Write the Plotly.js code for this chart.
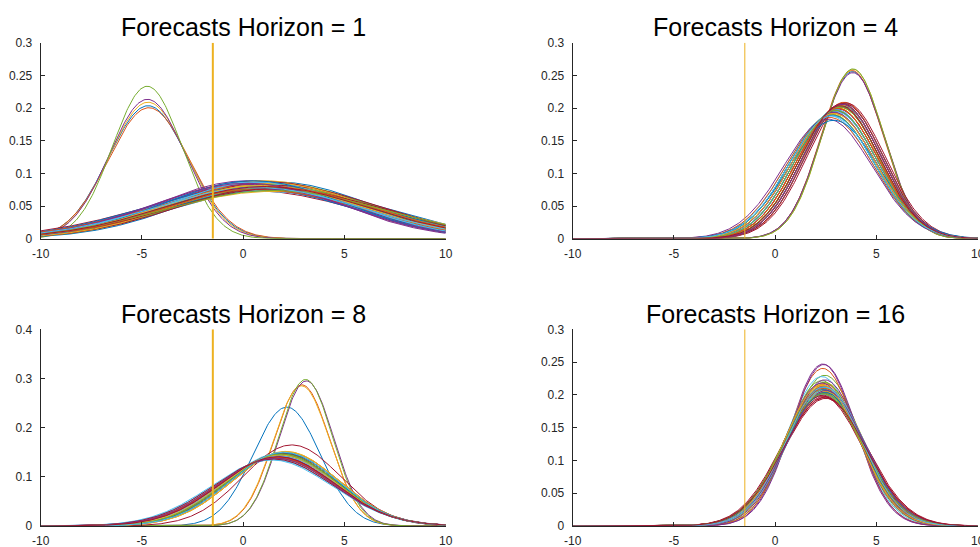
<!DOCTYPE html>
<html><head><meta charset="utf-8">
<script src="https://cdn.plot.ly/plotly-3.0.1.min.js"></script>
<style>html,body{margin:0;padding:0;background:#fff}#chart{width:980px;height:547px}</style>
</head><body><div id="chart"></div>
<script>
// Panel titles
const titles = ["Forecasts Horizon = 1", "Forecasts Horizon = 4", "Forecasts Horizon = 8", "Forecasts Horizon = 16"];
// Vertical reference value
const refValue = -1.5;
// Tick labels
const xTickVals = [-10, -5, 0, 5, 10];
const xTickText = ["-10", "-5", "0", "5", "10"];
const yTickVals03 = [0, 0.05, 0.1, 0.15, 0.2, 0.25, 0.3];
const yTickText03 = ["0", "0.05", "0.1", "0.15", "0.2", "0.25", "0.3"];
const yTickVals04 = [0, 0.1, 0.2, 0.3, 0.4];
const yTickText04 = ["0", "0.1", "0.2", "0.3", "0.4"];

// Forecast density parameters (mean, std)
const h1Mean = [-4.70,-4.66,-4.70,-4.73,-4.74,
  1.0,0.3,1.7,0.6,1.3,0.2,1.5,0.9,0.5,1.8,0.7,1.2,0.4,1.6,1.0,0.3,1.4,0.8,1.1,0.5,1.7,0.6,
  1.3,0.2,0.9,1.5,0.7,1.2,0.4,1.8,1.0,0.6,1.4,0.3,1.1,0.8,1.6,0.5,1.3,0.9,0.2,1.5,0.7,1.1];
const h1Sd = [1.96,1.99,1.91,1.87,1.71,
  4.9,5.4,4.6,4.7,5.3,4.5,5.0,5.5,4.8,5.2,4.5,4.9,5.1,4.7,5.4,4.6,5.2,4.8,4.5,5.3,5.0,4.9,
  4.6,5.1,4.7,5.5,5.2,4.8,4.6,4.9,5.0,5.3,4.7,4.8,5.1,4.6,5.2,4.5,5.0,4.9,4.7,5.4,5.1,5.0];

const h4Mean = [3.82,3.80,3.85,3.83,3.84,
  3.0,3.2,2.8,3.4,3.1,2.9,3.3,2.7,3.2,3.0,3.4,2.8,3.1,3.3,2.9,3.5,3.0,2.7,3.2,3.1,2.8,3.4,
  3.0,3.3,2.9,3.1,2.6,3.2,3.0,3.4,2.8,3.1,3.3,2.9,3.2,3.0,3.3,2.9,3.1,2.9,3.3,3.0,2.8,3.2];
const h4Sd = [1.56,1.55,1.54,1.57,1.535,
  2.05,1.95,2.10,1.92,2.00,2.08,1.94,2.12,1.98,2.03,1.91,2.09,2.00,1.95,2.06,1.92,2.02,2.15,1.97,2.01,2.10,1.93,
  2.04,1.96,2.07,1.99,2.18,1.97,2.05,1.93,2.11,2.00,1.95,2.06,1.98,2.02,1.93,2.20,2.00,2.08,1.94,2.03,2.12,1.96];

const h8Mean = [2.15,2.90,2.88,3.12,3.08,1.8,2.40,
  1.8,1.6,2.0,1.7,1.9,1.5,2.1,1.8,1.6,1.9,1.7,2.0,1.5,1.8,1.9,1.6,2.1,1.7,1.8,1.4,2.0,
  1.9,1.6,1.8,1.7,2.0,1.5,1.9,1.8,1.6,2.1,1.7,1.9,1.8,1.5,2.0,1.7,1.8,1.6,1.9,2.0,1.7];
const h8Sd = [1.65,1.39,1.40,1.352,1.339,2.70,2.42,
  2.75,2.85,2.68,2.90,2.72,2.95,2.65,2.80,2.88,2.70,2.82,2.66,2.92,2.78,2.70,2.86,2.63,2.84,2.76,2.97,2.69,
  2.73,2.90,2.79,2.83,2.67,2.94,2.71,2.77,2.87,2.64,2.81,2.74,2.80,2.93,2.68,2.85,2.76,2.89,2.72,2.66,2.83];

const h16Mean = [2.4,2.3,2.5,2.35,2.45,2.3,2.4,2.5,2.35,2.4,2.45,2.3,2.5,2.4,2.35,2.45,2.3,2.4,2.5,2.35,
  2.45,2.4,2.3,2.5,2.35,2.4,2.45,2.3,2.4,2.5,2.35,2.45,2.3,2.4,2.5,2.35,2.4,2.45,2.3,2.4,2.5,2.35,2.45,2.4,2.3,2.5,2.35,2.4,2.45];
const h16Sd = [1.92,1.88,1.83,1.615,1.735,1.75,1.97,1.90,1.66,1.86,1.95,1.80,1.93,2.02,1.89,1.84,1.91,1.62,1.96,1.87,
  2.04,1.94,1.85,1.90,1.98,1.82,1.93,2.01,1.88,1.95,1.86,1.79,1.92,1.99,2.05,1.91,1.87,1.94,1.83,1.97,1.89,2.00,1.96,1.90,1.85,1.93,1.98,1.88,2.03];

const colorOrder = ['#0072BD','#D95319','#EDB120','#7E2F8E','#77AC30','#4DBEEE','#A2142F'];

// evaluation grid for the densities
const xs = [];
for (let k = 0; k <= 400; k++) xs.push(-10 + k * 0.05);
function pdf(x, m, s) { return Math.exp(-0.5 * ((x - m) / s) ** 2) / (s * Math.sqrt(2 * Math.PI)); }

const panels = [
  {mean: h1Mean, sd: h1Sd, xa: 'x', ya: 'y', ymax: 0.3, vw: 2},
  {mean: h4Mean, sd: h4Sd, xa: 'x2', ya: 'y2', ymax: 0.3, vw: 1},
  {mean: h8Mean, sd: h8Sd, xa: 'x3', ya: 'y3', ymax: 0.4, vw: 2},
  {mean: h16Mean, sd: h16Sd, xa: 'x4', ya: 'y4', ymax: 0.3, vw: 1}
];

const traces = [];
panels.forEach(p => {
  p.mean.forEach((m, i) => {
    traces.push({
      x: xs, y: xs.map(x => pdf(x, m, p.sd[i])), xaxis: p.xa, yaxis: p.ya,
      type: 'scatter', mode: 'lines', line: {color: colorOrder[i % 7], width: 1},
      hoverinfo: 'skip', showlegend: false
    });
  });
  traces.push({
    x: [refValue, refValue], y: [0, p.ymax], xaxis: p.xa, yaxis: p.ya,
    type: 'scatter', mode: 'lines', line: {color: '#EDB120', width: p.vw},
    hoverinfo: 'skip', showlegend: false
  });
});

const W = 980, H = 547;
const colX = [[40.7 / W, 445.7 / W], [572.7 / W, 977.7 / W]];
const rowY = [[(H - 238.7) / H, (H - 42.7) / H], [(H - 526) / H, (H - 329.3) / H]];
const tickFont = {family: 'Liberation Sans, Arial, sans-serif', size: 12, color: '#262626'};

function xaxis(dom, anchor) {
  return {domain: dom, range: [-10, 10], tickmode: 'array', tickvals: xTickVals, ticktext: xTickText, anchor: anchor,
    ticks: 'inside', ticklen: 4, tickcolor: '#262626', showline: true, linecolor: '#262626', linewidth: 1,
    showgrid: false, zeroline: false, tickfont: tickFont, ticklabelstandoff: 4, ticklabeloverflow: 'allow',
    fixedrange: true};
}
function yaxis(dom, ymax, anchor) {
  const v = ymax > 0.35 ? yTickVals04 : yTickVals03;
  const t = ymax > 0.35 ? yTickText04 : yTickText03;
  return {domain: dom, range: [0, ymax], tickmode: 'array', tickvals: v, ticktext: t, anchor: anchor,
    ticks: 'inside', ticklen: 4, tickcolor: '#262626', showline: true, linecolor: '#262626', linewidth: 1,
    showgrid: false, zeroline: false, tickfont: tickFont, ticklabelstandoff: 5, ticklabeloverflow: 'allow',
    fixedrange: true};
}

const titleY = [(H - 43) / H, (H - 330) / H];
const annotations = titles.map((t, i) => ({
  text: t, xref: 'paper', yref: 'paper', showarrow: false,
  x: (colX[i % 2][0] + colX[i % 2][1]) / 2, y: titleY[Math.floor(i / 2)],
  xanchor: 'center', yanchor: 'bottom',
  font: {family: 'Liberation Sans, Arial, sans-serif', size: 25, color: '#000'}
}));

const layout = {
  width: W, height: H, margin: {l: 0, r: 0, t: 0, b: 0},
  paper_bgcolor: '#fff', plot_bgcolor: '#fff', showlegend: false,
  xaxis: xaxis(colX[0], 'y'),
  yaxis: yaxis(rowY[0], 0.3, 'x'),
  xaxis2: xaxis(colX[1], 'y2'),
  yaxis2: yaxis(rowY[0], 0.3, 'x2'),
  xaxis3: xaxis(colX[0], 'y3'),
  yaxis3: yaxis(rowY[1], 0.4, 'x3'),
  xaxis4: xaxis(colX[1], 'y4'),
  yaxis4: yaxis(rowY[1], 0.3, 'x4'),
  annotations: annotations
};

Plotly.newPlot('chart', traces, layout, {displayModeBar: false, staticPlot: true});
</script>
</body></html>
